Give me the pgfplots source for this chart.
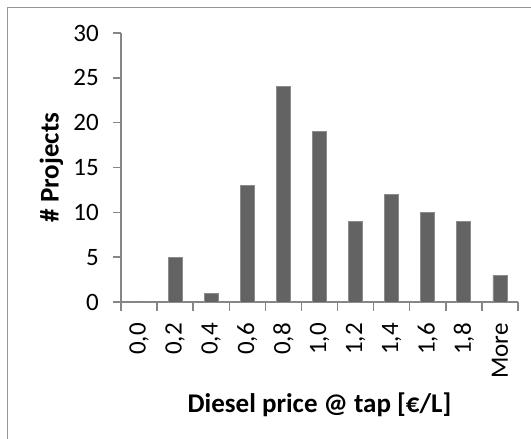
\documentclass[border=0pt]{standalone}
\usepackage{fontspec}
\setmainfont{Carlito}
\usepackage{pgfplots}
\pgfplotsset{compat=1.18}
\definecolor{barfill}{RGB}{99,99,99}
\definecolor{baredge}{RGB}{140,140,140}
\definecolor{axgray}{RGB}{134,134,134}
\definecolor{framegray}{RGB}{150,150,150}
\begin{document}
\begin{tikzpicture}[x=1bp,y=1bp]
\useasboundingbox (0,0) rectangle (531,439);
\draw[color=framegray, line width=1bp] (7.5,0) -- (7.5,431) -- (531,431);
\begin{axis}[
  at={(121bp,137bp)}, anchor=south west,
  scale only axis, width=397bp, height=269bp,
  xmin=0, xmax=11, ymin=0, ymax=30,
  axis x line*=bottom, axis y line*=left,
  axis line style={draw=axgray, line width=1.5bp, -},
  tick align=outside,
  ytick={0,5,...,30},
  major tick length=8bp,
  minor tick length=9bp,
  tick style={draw=axgray, line width=1.5bp},
  xtick={0.5,1.5,...,10.5},
  xticklabels={0{,}0,0{,}2,0{,}4,0{,}6,0{,}8,1{,}0,1{,}2,1{,}4,1{,}6,1{,}8,More},
  major x tick style={draw=none},
  minor xtick={0,1,...,11},
  minor x tick style={draw=axgray, line width=1.5bp},
  /pgf/number format/assume math mode=true,
  tick label style={font=\fontsize{25bp}{30bp}\selectfont},
  yticklabel style={anchor=east, inner sep=0pt, xshift=-14bp},
  xticklabel style={yshift=-13bp, rotate=90, anchor=east, inner sep=0pt},
  xlabel={Diesel price @ tap [€/L]},
  ylabel={\# Projects},
  label style={font=\bfseries\fontsize{27bp}{32bp}\selectfont},
  xlabel style={at={(axis description cs:0.5,-0.383)}, anchor=center},
  ylabel style={at={(axis description cs:-0.175,0.5)}, anchor=center},
  clip=false,
]
\addplot[ybar, bar width=14bp, fill=barfill, draw=baredge, line width=0.8bp] coordinates {
(0.5,0) (1.5,5) (2.5,1) (3.5,13) (4.5,24) (5.5,19) (6.5,9) (7.5,12) (8.5,10) (9.5,9) (10.5,3)
};
\end{axis}
\end{tikzpicture}
\end{document}
